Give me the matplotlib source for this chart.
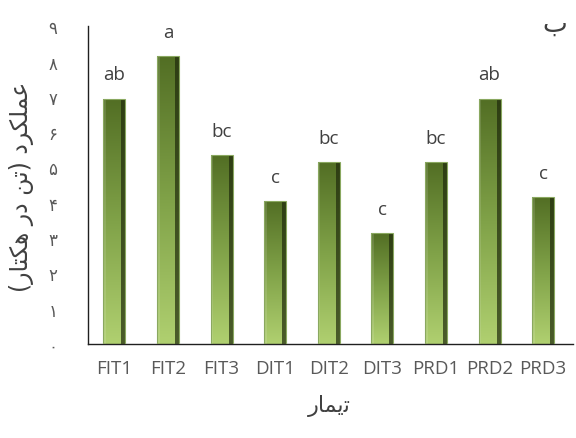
import numpy as np
import matplotlib
matplotlib.use('Agg')
import matplotlib.pyplot as plt
from matplotlib.colors import LinearSegmentedColormap

# data
treatments = ['FIT1', 'FIT2', 'FIT3', 'DIT1', 'DIT2', 'DIT3', 'PRD1', 'PRD2', 'PRD3']
yield_vals = [6.95, 8.15, 5.35, 4.05, 5.15, 3.14, 5.15, 6.95, 4.16]
letters = ['ab', 'a', 'bc', 'c', 'bc', 'c', 'bc', 'ab', 'c']
y_ticks = [0, 1, 2, 3, 4, 5, 6, 7, 8, 9]
y_tick_labels = ['۰', '۱', '۲', '۳', '۴', '۵', '۶', '۷', '۸', '۹']

# persian labels, pre-shaped in visual order (matplotlib has no bidi shaping)
ylabel_txt = '(\uFEAD\uFE8E\uFE98\uFB91\uFEEB \uFEAD\uFEA9 \uFEE6\uFE97) \uFEA9\uFEAE\uFB91\uFEE0\uFEE4\uFECB'
xlabel_txt = '\uFEAD\uFE8E\uFEE4\uFBFE\uFE97'
panel_txt = '\u0628'

fig = plt.figure(figsize=(5.76, 4.39), dpi=100)
ax = fig.add_axes([0.153, 0.214, 0.842, 0.724])

x = np.arange(len(treatments))
width = 0.41
bars = ax.bar(x, yield_vals, width=width, color='none', edgecolor='#8aa860', linewidth=0.8, zorder=3)

# vertical gradient dark (top) -> light (bottom), dark strip on right side
cmap = LinearSegmentedColormap.from_list('grn', ['#b0d070', '#80a248', '#526e24'])
grad = np.linspace(0, 1, 256).reshape(-1, 1)
for b in bars:
    x0, w, h = b.get_x(), b.get_width(), b.get_height()
    im = ax.imshow(grad, cmap=cmap, aspect='auto', origin='lower',
                   extent=[x0, x0 + w, 0, h], zorder=2, interpolation='bicubic')
    im.set_clip_path(b)
    ax.fill_between([x0 + w * 0.82, x0 + w], 0, h, color='#1f2a0c', alpha=0.7, zorder=2.5, lw=0)
    ax.fill_between([x0, x0 + w * 0.12], 0, h, color='white', alpha=0.12, zorder=2.5, lw=0)

for xi, v, s in zip(x, yield_vals, letters):
    ax.annotate(s, (xi, v), xytext=(0, 11), textcoords='offset points',
                ha='center', va='bottom', fontsize=13.5, color='#404040', family='Open Sans')

ax.set_xlim(-0.49, 8.56)
ax.set_ylim(0, 9)
ax.set_xticks(x)
ax.set_xticklabels(treatments, fontsize=13.5, color='#595959', family='Open Sans')
ax.set_yticks(y_ticks)
ax.set_yticklabels(y_tick_labels, fontsize=12, color='#595959', family='DejaVu Sans')
ax.tick_params(axis='both', length=0)
ax.tick_params(axis='y', pad=22)
ax.tick_params(axis='x', pad=11)

for side in ['top', 'right']:
    ax.spines[side].set_visible(False)
ax.spines['left'].set_color('#202020')
ax.spines['bottom'].set_color('#202020')
ax.spines['left'].set_linewidth(1.0)
ax.spines['bottom'].set_linewidth(1.0)

fig.text(0.038, 0.575, ylabel_txt, rotation=90, ha='center', va='center',
         fontsize=17, color='#404040', family='DejaVu Sans')
fig.text(0.572, 0.075, xlabel_txt, ha='center', va='center',
         fontsize=16, color='#404040', family='DejaVu Sans')
fig.text(0.963, 0.943, panel_txt, ha='center', va='center',
         fontsize=19, color='#404040', family='DejaVu Sans')

fig.savefig('out.png', dpi=100)
